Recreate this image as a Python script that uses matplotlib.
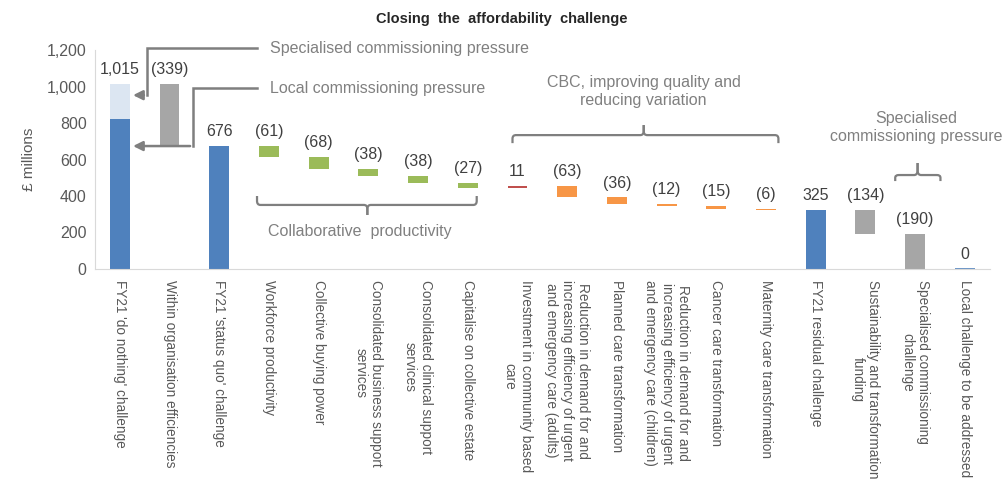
import matplotlib
matplotlib.use("Agg")
import matplotlib.pyplot as plt
from matplotlib.path import Path
from matplotlib.patches import PathPatch
import numpy as np

plt.rcParams["font.family"] = ["Liberation Sans", "DejaVu Sans"]

# Chart data
categories = [
    "FY21 'do nothing' challenge",
    "Within organisation efficiencies",
    "FY21 'status quo' challenge",
    "Workforce productivity",
    "Collective buying power",
    "Consolidated business support\nservices",
    "Consolidated clinical support\nservices",
    "Capitalise on collective estate",
    "Investment in community based\ncare",
    "Reduction in demand for and\nincreasing efficiency of urgent\nand emergency care (adults)",
    "Planned care transformation",
    "Reduction in demand for and\nincreasing efficiency of urgent\nand emergency care (children)",
    "Cancer care transformation",
    "Maternity care transformation",
    "FY21 residual challenge",
    "Sustainability and transformation\nfunding",
    "Specialised commissioning\nchallenge",
    "Local challenge to be addressed",
]
values = [1015, -339, 676, -61, -68, -38, -38, -27, 11, -63, -36, -12, -15, -6, 325, -134, -190, 0]
is_total = [True, False, True, False, False, False, False, False, False,
            False, False, False, False, False, True, False, False, True]
local_pressure = 825      # dark part of the first bar
specialised_pressure = 190  # light part of the first bar

colors = ["#4F81BD", "#A6A6A6", "#4F81BD", "#9BBB59", "#9BBB59", "#9BBB59", "#9BBB59",
          "#9BBB59", "#C0504D", "#F79646", "#F79646", "#F79646", "#F79646", "#F79646",
          "#4F81BD", "#A6A6A6", "#A6A6A6", "#4F81BD"]

# waterfall bottoms / heights
bottoms, heights = [], []
level = 0
for v, tot in zip(values, is_total):
    if tot:
        bottoms.append(0)
        heights.append(v)
        level = v
    else:
        new = level + v
        bottoms.append(min(level, new))
        heights.append(abs(v))
        level = new

def fmt(v):
    if v < 0:
        return f"({-v:,})"
    return f"{v:,}"

fig = plt.figure(figsize=(10.03, 4.82), dpi=100)
ax = fig.add_axes([0.0947, 0.442, 0.892, 0.454])

x = np.arange(len(categories))
w = 0.4
for i in range(len(categories)):
    if i == 0:
        ax.bar(i, local_pressure, w, color="#4F81BD")
        ax.bar(i, specialised_pressure, w, bottom=local_pressure, color="#DCE6F2")
    else:
        ax.bar(i, heights[i], w, bottom=bottoms[i], color=colors[i],
               edgecolor=colors[i] if heights[i] < 3 else "none", linewidth=1.2)
    ax.annotate(fmt(values[i]), (i, bottoms[i] + heights[i]),
                xytext=(0, 5), textcoords="offset points", ha="center", va="bottom",
                fontsize=11.5, color="#404040")

ax.set_xlim(-0.5, len(categories) - 0.5)
ax.set_ylim(0, 1200)
ax.set_yticks(range(0, 1201, 200))
ax.yaxis.set_major_formatter(matplotlib.ticker.FuncFormatter(lambda v, p: f"{int(v):,}"))
ax.tick_params(axis="y", length=0, labelsize=11.5, labelcolor="#595959", pad=6)
ax.set_xticks(x)
ax.set_xticklabels(categories, rotation=-90, ha="center", va="top",
                   multialignment="center", fontsize=9.8, color="#595959")
ax.tick_params(axis="x", length=0, pad=8)
for s in ["top", "right"]:
    ax.spines[s].set_visible(False)
for s in ["left", "bottom"]:
    ax.spines[s].set_color("#D9D9D9")
ax.set_ylabel("£ millions", fontsize=11, color="#595959", labelpad=8)

fig.suptitle("Closing  the  affordability  challenge", x=0.5, y=0.975,
             fontsize=10.5, fontweight="bold", color="#262626")

grey = "#7F7F7F"
txt = "#808080"
lkw = dict(color=grey, lw=1.8, clip_on=False, solid_joinstyle="miter")

# arrows into the first bar
ax.plot([2.76, 0.54, 0.54], [1211, 1211, 953], **lkw)
ax.annotate("", xy=(0.21, 953), xytext=(0.54, 953),
            arrowprops=dict(arrowstyle="-|>", color=grey, lw=1.8, mutation_scale=14),
            annotation_clip=False)
ax.plot([2.76, 1.47, 1.47], [992, 992, 674], **lkw)
ax.annotate("", xy=(0.21, 674), xytext=(1.47, 674),
            arrowprops=dict(arrowstyle="-|>", color=grey, lw=1.8, mutation_scale=14),
            annotation_clip=False)
ax.text(3.02, 1211, "Specialised commissioning pressure", fontsize=11.5, color=txt,
        va="center", ha="left", clip_on=False)
ax.text(3.02, 992, "Local commissioning pressure", fontsize=11.5, color=txt,
        va="center", ha="left", clip_on=False)

def bracket(x0, x1, y_end, y_line, y_tip, xm):
    # curly-ish bracket with small rounded corners
    rx, ry = 0.07, (y_line - y_end) * 0.45
    sgn = 1 if y_tip > y_line else -1
    ty = abs(y_tip - y_line) * 0.4 * sgn
    verts = [
        (x0, y_end), (x0, y_line - ry), (x0, y_line), (x0 + rx, y_line),
        (xm - rx, y_line), (xm, y_line), (xm, y_line + ty), (xm, y_tip),
    ]
    codes = [Path.MOVETO, Path.LINETO, Path.CURVE3, Path.CURVE3,
             Path.LINETO, Path.CURVE3, Path.CURVE3, Path.LINETO]
    verts2 = [
        (xm, y_tip), (xm, y_line + ty), (xm, y_line), (xm + rx, y_line),
        (x1 - rx, y_line), (x1, y_line), (x1, y_line - ry), (x1, y_end),
    ]
    codes2 = [Path.MOVETO, Path.LINETO, Path.CURVE3, Path.CURVE3,
              Path.LINETO, Path.CURVE3, Path.CURVE3, Path.LINETO]
    for vv, cc in [(verts, codes), (verts2, codes2)]:
        ax.add_patch(PathPatch(Path(vv, cc), facecolor="none", edgecolor=grey,
                               lw=1.6, clip_on=False))

bracket(2.76, 7.18, 400, 351, 296, 4.98)
ax.text(4.82, 203, "Collaborative  productivity", fontsize=11.5, color=txt,
        ha="center", va="center")
bracket(7.9, 13.25, 690, 734, 789, 10.54)
ax.text(10.54, 973, "CBC, improving quality and\nreducing variation", fontsize=11.5,
        color=txt, ha="center", va="center", linespacing=1.3)
bracket(15.6, 16.51, 482, 515, 581, 16.05)
ax.text(16.03, 775, "Specialised\ncommissioning pressure", fontsize=11.5,
        color=txt, ha="center", va="center", linespacing=1.3, clip_on=False)

fig.savefig("out.png", dpi=100)
